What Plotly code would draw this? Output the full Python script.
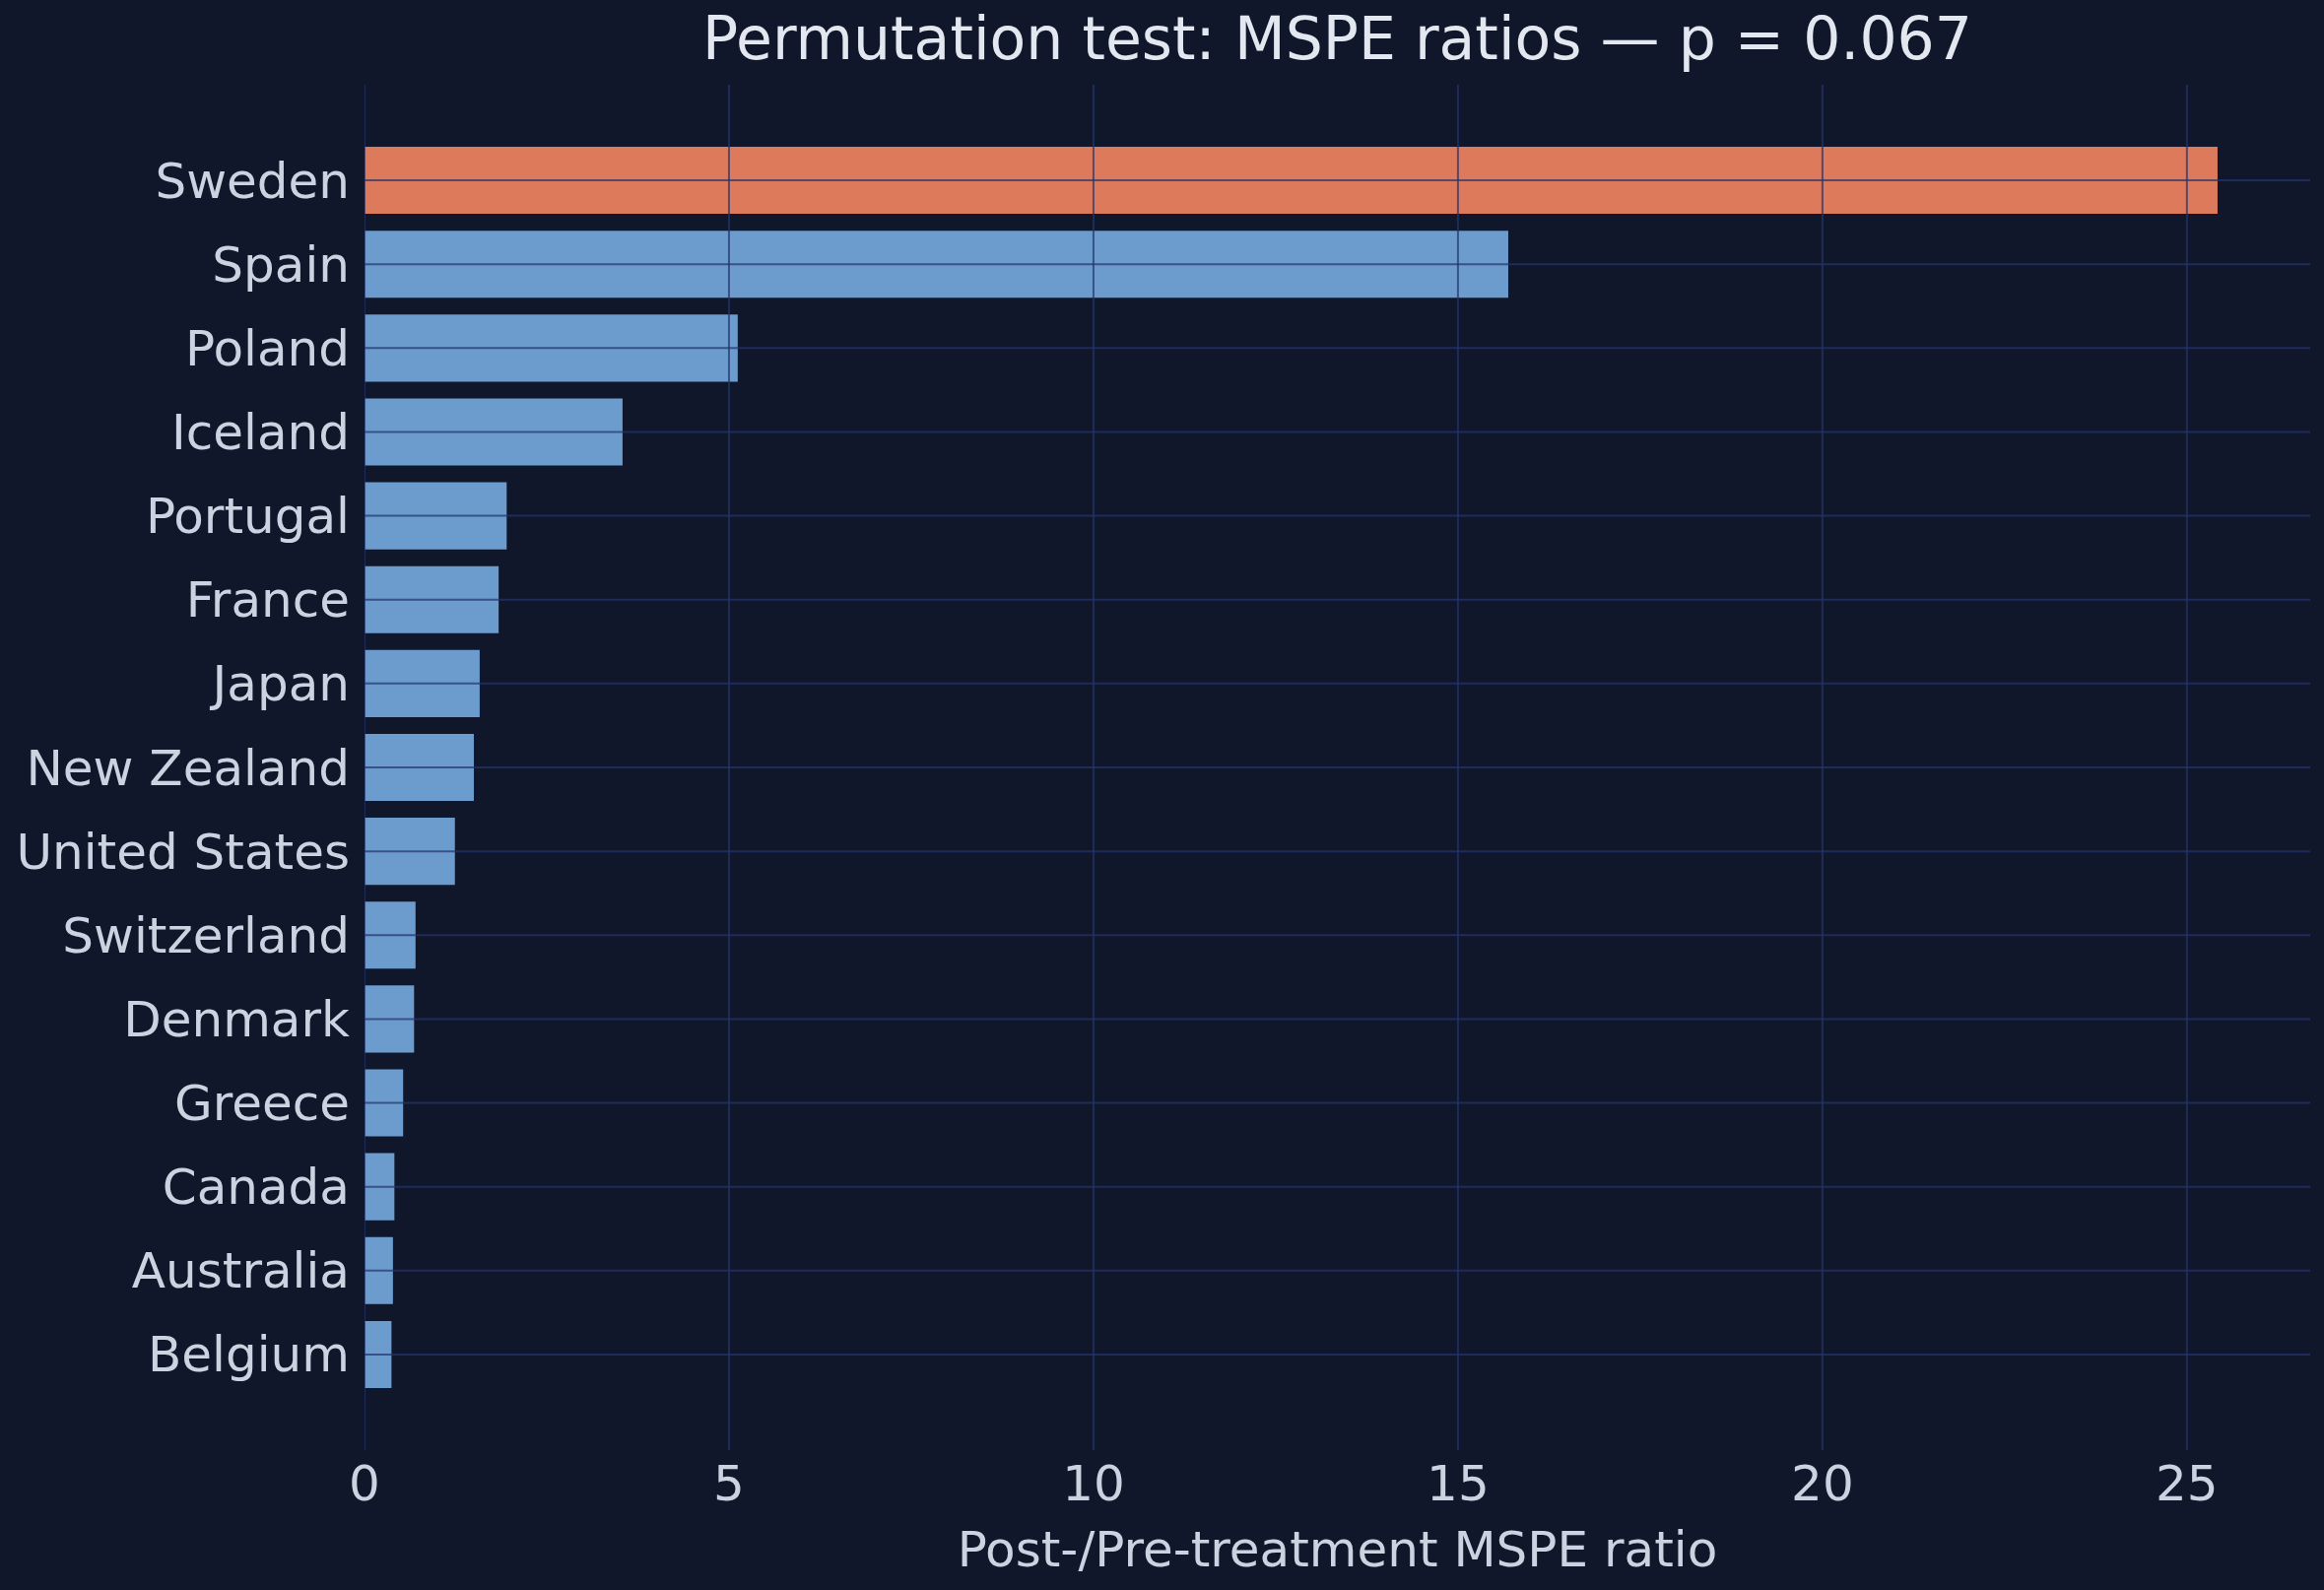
import plotly.graph_objects as go

countries = ["Sweden", "Spain", "Poland", "Iceland", "Portugal", "France", "Japan",
             "New Zealand", "United States", "Switzerland", "Denmark", "Greece",
             "Canada", "Australia", "Belgium"]
mspe_ratio = [25.42, 15.69, 5.12, 3.54, 1.95, 1.84, 1.58, 1.50, 1.24, 0.70, 0.68,
              0.53, 0.41, 0.39, 0.37]
treated = "Sweden"
x_ticks = [0, 5, 10, 15, 20, 25]

BG = "#10172a"
BLUE = "#6b9ccd"
ORANGE = "#dc7a5b"
TEXT = "#cbd3e1"
TITLE = "#e3e8f0"
GRID = "rgba(36,52,110,0.72)"
FONT = "DejaVu Sans"

colors = [ORANGE if c == treated else BLUE for c in countries]
n = len(countries)
xmax = max(mspe_ratio) * 1.05

fig = go.Figure(go.Bar(
    x=mspe_ratio, y=countries, orientation="h",
    marker=dict(color=colors, line=dict(width=0)),
    showlegend=False,
))

shapes = []
for xv in x_ticks:
    shapes.append(dict(type="line", xref="x", yref="paper", x0=xv, x1=xv, y0=0, y1=1,
                       line=dict(color=GRID, width=2), layer="above"))
for c in countries:
    shapes.append(dict(type="line", xref="paper", yref="y", x0=0, x1=1, y0=c, y1=c,
                       line=dict(color=GRID, width=2), layer="above"))

fig.update_layout(
    width=2359, height=1614,
    paper_bgcolor=BG, plot_bgcolor=BG,
    margin=dict(l=370, r=14, t=86, b=142),
    bargap=0.2,
    font=dict(family=FONT, color=TEXT, size=50),
    title=dict(text="Permutation test: MSPE ratios — p = 0.067",
               font=dict(family=FONT, size=60, color=TITLE),
               x=0.5, xref="paper", xanchor="center",
               y=1 - 39 / 1614, yref="container", yanchor="middle"),
    shapes=shapes,
)
fig.update_xaxes(
    range=[0, xmax], tickvals=x_ticks, ticktext=[str(v) for v in x_ticks],
    showgrid=False, zeroline=False, showline=False, ticks="",
    tickfont=dict(family=FONT, size=50, color=TEXT),
    title=dict(text="Post-/Pre-treatment MSPE ratio",
               font=dict(family=FONT, size=50, color=TEXT), standoff=20),
)
fig.update_yaxes(
    type="category", categoryorder="array", categoryarray=countries,
    range=[n - 1 + 1.14, -1.14],
    showgrid=False, zeroline=False, showline=False, ticks="",
    tickfont=dict(family=FONT, size=50, color=TEXT),
    ticklabelstandoff=14,
)

fig.write_html(
    "out.html",
    config={"displayModeBar": False},
    post_script="document.body.style.margin='0';document.body.style.padding='0';"
                "document.body.style.background='" + BG + "';"
                "document.documentElement.style.overflow='hidden';",
)
